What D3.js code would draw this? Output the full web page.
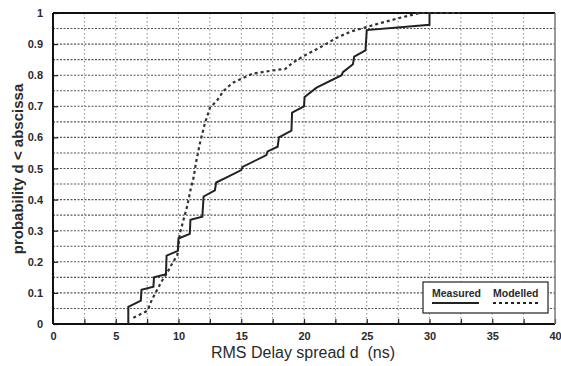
<!DOCTYPE html>
<html>
<head>
<meta charset="utf-8">
<script src="https://cdn.jsdelivr.net/npm/d3@7/dist/d3.min.js"></script>
<style>
  html, body { margin: 0; padding: 0; background: #ffffff; }
  svg { display: block; }
  text { font-family: "Liberation Sans", Arial, sans-serif; fill: #2a2a2a; }
</style>
</head>
<body>
<svg id="chart" width="561" height="366"></svg>
<script>
// Empirical CDF of measured RMS delay spread (d in ns, probability)
const measuredD = [6.0, 6.0, 7.0, 7.05, 8.0, 8.05, 9.0, 9.05, 9.95, 10.0, 10.9, 10.95, 11.9, 12.0, 12.9, 13.0,
                   14.0, 15.0, 15.1, 17.0, 17.1, 17.9, 18.0, 19.0, 19.05, 20.0, 20.05, 21.0, 23.0, 23.1, 23.9, 24.0,
                   24.9, 25.0, 30.0, 30.0];
const measuredP = [0.0, 0.055, 0.075, 0.11, 0.12, 0.15, 0.16, 0.22, 0.235, 0.275, 0.29, 0.335, 0.345, 0.41, 0.43, 0.455,
                   0.475, 0.495, 0.505, 0.543, 0.555, 0.57, 0.60, 0.622, 0.68, 0.70, 0.73, 0.76, 0.80, 0.81, 0.835, 0.86,
                   0.88, 0.945, 0.962, 1.0];

// CDF produced by the delay-spread model
const modelledD = [6.4, 7.4, 7.6, 7.9, 8.3, 8.7, 9.1, 9.5, 9.9, 10.1, 10.4, 10.7, 10.95, 11.2, 11.4, 11.7, 12.1, 12.5,
                   13.1, 13.6, 14.3, 15.1, 15.9, 16.7, 17.8, 18.5, 19.1, 19.9, 21.3, 22.6, 23.7, 25.0, 26.3, 27.9, 29.2, 32.4];
const modelledP = [0.02, 0.04, 0.05, 0.08, 0.11, 0.14, 0.165, 0.195, 0.22, 0.29, 0.335, 0.38, 0.43, 0.47, 0.52, 0.58, 0.645, 0.695,
                   0.72, 0.75, 0.775, 0.79, 0.805, 0.81, 0.817, 0.82, 0.84, 0.86, 0.89, 0.92, 0.94, 0.955, 0.97, 0.987, 1.0, 1.0];

const xTicks = [0, 5, 10, 15, 20, 25, 30, 35, 40];
const yTicks = [0, 0.1, 0.2, 0.3, 0.4, 0.5, 0.6, 0.7, 0.8, 0.9, 1];
const xGrid = d3.range(0, 40.01, 2.5);
const yGrid = d3.range(0, 1.001, 0.05);
const seriesNames = ["Measured", "Modelled"];

const svg = d3.select("#chart");
const plotL = 53, plotR = 555, plotT = 13, plotB = 324;

const x = d3.scaleLinear().domain([0, 40]).range([plotL, plotR]);
const y = d3.scaleLinear().domain([0, 1]).range([plotB, plotT]);

// dotted grid
const grid = svg.append("g");
grid.selectAll("line.h").data(yGrid.slice(1, -1)).join("line")
  .attr("x1", plotL).attr("x2", plotR)
  .attr("y1", d => y(d)).attr("y2", d => y(d))
  .attr("stroke", "#555").attr("stroke-width", 1.1)
  .attr("stroke-dasharray", "2,1.5");
grid.selectAll("line.v").data(xGrid.slice(1, -1)).join("line")
  .attr("y1", plotT).attr("y2", plotB)
  .attr("x1", d => x(d)).attr("x2", d => x(d))
  .attr("stroke", "#888").attr("stroke-width", 1)
  .attr("stroke-dasharray", "1.5,2.5");

// axes with inward ticks
const xAxis = svg.append("g").attr("transform", `translate(0,${plotB})`)
  .call(d3.axisBottom(x).tickValues(xGrid).tickSize(-5)
    .tickFormat(d => xTicks.includes(d) ? d3.format("d")(d) : "").tickPadding(8));
const yAxis = svg.append("g").attr("transform", `translate(${plotL},0)`)
  .call(d3.axisLeft(y).tickValues(yTicks).tickSize(-5)
    .tickFormat(d => d === 0 || d === 1 ? String(d) : d3.format(".1f")(d)).tickPadding(10));
[xAxis, yAxis].forEach(a => {
  a.select(".domain").remove();
  a.selectAll(".tick line").attr("stroke", "#222").attr("stroke-width", 1.2);
  a.selectAll(".tick text").attr("font-size", 11).attr("font-weight", "bold")
    .attr("fill", "#333").attr("font-family", "Liberation Sans, Arial, sans-serif");
});

// frame
svg.append("line").attr("x1", plotL).attr("x2", plotR).attr("y1", plotT).attr("y2", plotT)
  .attr("stroke", "#111").attr("stroke-width", 2);
svg.append("line").attr("x1", plotL).attr("x2", plotL).attr("y1", plotT).attr("y2", plotB)
  .attr("stroke", "#111").attr("stroke-width", 2);
svg.append("line").attr("x1", plotL).attr("x2", plotR).attr("y1", plotB).attr("y2", plotB)
  .attr("stroke", "#111").attr("stroke-width", 2);
svg.append("line").attr("x1", plotR).attr("x2", plotR).attr("y1", plotT).attr("y2", plotB)
  .attr("stroke", "#777").attr("stroke-width", 1.5);

const line = d3.line().x(d => x(d[0])).y(d => y(d[1]));

svg.append("path")
  .datum(d3.zip(modelledD, modelledP))
  .attr("d", line).attr("fill", "none")
  .attr("stroke", "#333").attr("stroke-width", 2.2)
  .attr("stroke-dasharray", "3,3");

svg.append("path")
  .datum(d3.zip(measuredD, measuredP))
  .attr("d", line).attr("fill", "none")
  .attr("stroke", "#222").attr("stroke-width", 2);

// axis titles
svg.append("text").attr("x", 303).attr("y", 358).attr("text-anchor", "middle")
  .attr("font-size", 16).attr("fill", "#333")
  .attr("xml:space", "preserve")
  .text("RMS Delay spread d  (ns)");
svg.append("text").attr("transform", "translate(23,169) rotate(-90)").attr("text-anchor", "middle")
  .attr("font-size", 15).attr("font-weight", "bold").attr("fill", "#333")
  .text("probability d < abscissa");

// legend
const lg = svg.append("g");
lg.append("rect").attr("x", 423).attr("y", 282).attr("width", 125).attr("height", 31)
  .attr("fill", "#fff").attr("stroke", "#222").attr("stroke-width", 1.2);
const items = [
  { name: seriesNames[0], x0: 432, dash: null },
  { name: seriesNames[1], x0: 493, dash: "3,3" }
];
items.forEach(it => {
  lg.append("text").attr("x", it.x0).attr("y", 297).attr("font-size", 10.5).attr("font-weight", "bold")
    .attr("fill", "#333").text(it.name);
  lg.append("line").attr("x1", it.x0).attr("x2", it.x0 + 47).attr("y1", 303).attr("y2", 303)
    .attr("stroke", "#222").attr("stroke-width", 2)
    .attr("stroke-dasharray", it.dash);
});
</script>
</body>
</html>
